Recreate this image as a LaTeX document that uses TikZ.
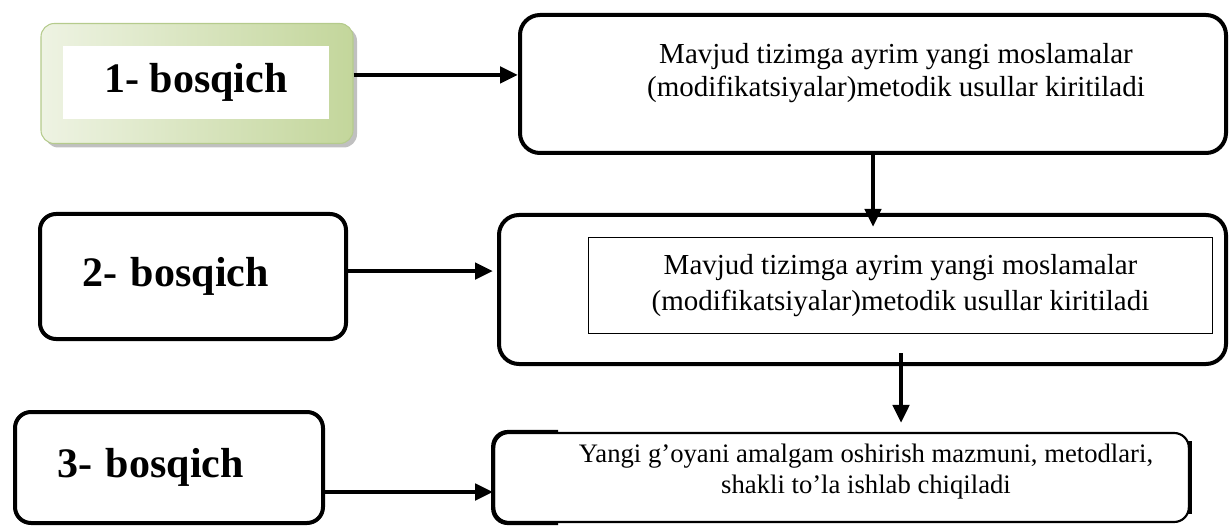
\documentclass[tikz,border=0pt]{standalone}
\usepackage{fontspec}
\setmainfont{Liberation Serif}
\usetikzlibrary{positioning}
\usetikzlibrary{arrows.meta}
\usetikzlibrary{shadows}
\definecolor{gLight}{HTML}{EEF3E3}
\definecolor{gDark}{HTML}{C3D69B}
\definecolor{gEdge}{HTML}{B5CB8C}
\tikzset{
    stage/.style={
        draw,
        line width=3pt,
        rounded corners=12pt,
        align=left,
        inner xsep=31.5pt,
        font=\fontsize{31.5}{36}\selectfont\bfseries},
    bigbox/.style={
        draw,
        line width=3pt,
        rounded corners=15pt},
    greenbox/.style={
        draw=gEdge,
        line width=0.8pt,
        rounded corners=10pt,
        left color=gLight,
        right color=gDark,
        drop shadow={shadow xshift=3pt,shadow yshift=-3pt,fill=black!45,opacity=.55}},
    every edge/.style={
        draw,
        ->,>={Triangle[length=13.5pt,width=12pt]},
        line width=3.4pt}}

\begin{document}
\begin{tikzpicture}[x=0.75pt,y=-0.75pt]
    \useasboundingbox (0,0) rectangle (1231,527);

    % left column
    \node[greenbox,minimum width=234pt,minimum height=90pt] (b1) at (197,83.5) {};
    \node[fill=white,minimum width=199.5pt,minimum height=54.75pt,
          font=\fontsize{31.5}{36}\selectfont\bfseries] (t1) at (196,82.5) {1- bosqich};
    \node[stage,text width=166.5pt,minimum height=93.75pt] (b2) at (193,276.5) {2- bosqich};
    \node[stage,text width=168pt,minimum height=83.25pt] (b3) at (169,467.5) {3- bosqich};

    % right column
    \node[bigbox,minimum width=529.5pt,minimum height=103.5pt] (bA) at (873,84) {};
    \node[align=center,font=\fontsize{21.75}{24.75}\selectfont] (tA) at (896,73)
        {Mavjud tizimga ayrim yangi moslamalar\\(modifikatsiyalar)metodik usullar kiritiladi};
    \node[bigbox,minimum width=545.25pt,minimum height=111.75pt] (bB) at (862.5,289.5) {};
    \node[draw,line width=0.8pt,minimum width=468pt,minimum height=72pt,align=center,
          font=\fontsize{21.75}{27}\selectfont] (iB) at (900.5,285.5)
        {Mavjud tizimga ayrim yangi moslamalar\\(modifikatsiyalar)metodik usullar kiritiladi};
    \node[draw,line width=1.6pt,rounded corners=11pt,minimum width=521pt,minimum height=66.75pt] (bC) at (841.5,477.5) {};
    \draw[line width=3pt,rounded corners=11pt] ([xshift=48.75pt]bC.north west) -- (bC.north west)
        -- (bC.south west) -- ([xshift=48.75pt]bC.south west);
    \draw[line width=3pt] ([yshift=-7pt]bC.north east) -- ([yshift=7pt]bC.south east);
    \node[align=center,font=\fontsize{20}{23.25}\selectfont] (tC) at (866,472)
        {Yangi g’oyani amalgam oshirish mazmuni, metodlari,\\shakli to’la ishlab chiqiladi};

    % connectors
    \coordinate (a1s) at ([yshift=6.4pt]b1.east);
    \coordinate (a2s) at ([yshift=4.1pt]b2.east);
    \coordinate (a3s) at ([yshift=-18.4pt]b3.east);
    \coordinate (d2s) at ([xshift=28.9pt,yshift=9.75pt]bB.south);

    \draw (a1s) edge (a1s -| bA.west);
    \draw (bA.south) edge[shorten >=-10.5pt] (bA.south |- bB.north);
    \draw (a2s) edge[shorten >=3pt] (a2s -| bB.west);
    \draw (d2s) edge[shorten >=6.75pt] (d2s |- bC.north);
    \draw (a3s) edge (a3s -| bC.west);
\end{tikzpicture}
\end{document}
